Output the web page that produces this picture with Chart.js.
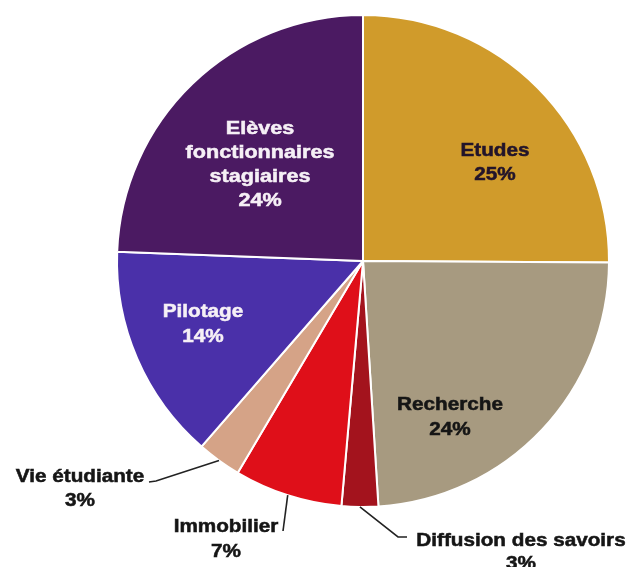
<!DOCTYPE html>
<html><head><meta charset="utf-8">
<script src="https://cdn.jsdelivr.net/npm/chart.js@4"></script>
<style>html,body{margin:0;padding:0;background:#fff;} #wrap{width:631px;height:567px;position:relative;}</style>
</head><body><div id="wrap"><canvas id="c" width="631" height="567"></canvas></div>
<script>
// ---- data ----
const categories = ['Etudes', 'Recherche', 'Diffusion des savoirs', 'Immobilier', 'Vie étudiante', 'Pilotage', ['Elèves', 'fonctionnaires', 'stagiaires']];
const shares = [25.1, 23.9, 2.4, 7.1, 2.9, 14.2, 24.4];
const percentLabels = ['25%', '24%', '3%', '7%', '3%', '14%', '24%'];

// ---- styles ----
const sliceColors = ['#D09B2B', '#A79A80', '#A3131D', '#DF0F19', '#D5A387', '#4A30A9', '#4B1A62'];
// label placement relative to pie centre (px); leader = extra points after the arc edge
const labelStyle = [
  { dx: 132, dy: -98, color: '#22142a', lh: 23.5, sx: 1.15 },
  { dx: 87, dy: 157, color: '#151515', lh: 25, sx: 1.15 },
  { ax: 521, ay: 541, color: '#151515', lh: 23, sx: 1.15, leader: [[398, 537], [407, 537]] },
  { ax: 226, ay: 527, color: '#151515', lh: 25, sx: 1.15, leader: [[283, 531]] },
  { ax: 80, ay: 477, color: '#151515', lh: 24.5, sx: 1.15, leader: [[156, 481], [149, 482]] },
  { dx: -160, dy: 64, color: '#f6f0f6', lh: 25, sx: 1.15 },
  { dx: -103, dy: -96, color: '#f6f0f6', lh: 24, sx: 1.2 }
];

function drawText(ctx, txt, x, y, sx) {
  ctx.save();
  ctx.translate(x, y);
  ctx.scale(sx, 1);
  ctx.strokeText(txt, 0, 0);
  ctx.fillText(txt, 0, 0);
  ctx.restore();
}

const labelPlugin = {
  id: 'sliceLabels',
  afterDatasetsDraw(chart) {
    const ctx = chart.ctx;
    const meta = chart.getDatasetMeta(0);
    ctx.save();
    ctx.font = 'bold 18px "Liberation Sans", Arial, sans-serif';
    ctx.textAlign = 'center';
    ctx.textBaseline = 'middle';
    meta.data.forEach((arc, i) => {
      const st = labelStyle[i];
      const p = arc.getProps(['x', 'y', 'startAngle', 'endAngle', 'outerRadius'], true);
      const cat = categories[i];
      const lines = (Array.isArray(cat) ? cat.slice() : [cat]).concat([percentLabels[i]]);
      let cx, cy;
      if (st.leader) {
        const mid = (p.startAngle + p.endAngle) / 2;
        const ex = p.x + Math.cos(mid) * p.outerRadius;
        const ey = p.y + Math.sin(mid) * p.outerRadius;
        ctx.beginPath();
        ctx.strokeStyle = '#222';
        ctx.lineWidth = 1.6;
        ctx.moveTo(ex, ey);
        st.leader.forEach(pt => ctx.lineTo(pt[0], pt[1]));
        ctx.stroke();
        cx = st.ax;
        cy = st.ay + (lines.length - 1) * st.lh / 2;
      } else {
        cx = p.x + st.dx;
        cy = p.y + st.dy;
      }
      ctx.fillStyle = st.color;
      ctx.strokeStyle = st.color;
      ctx.lineWidth = 0.5;
      const top = cy - (lines.length - 1) * st.lh / 2;
      lines.forEach((ln, k) => drawText(ctx, ln, cx, top + k * st.lh, st.sx));
    });
    ctx.restore();
  }
};

new Chart(document.getElementById('c'), {
  type: 'pie',
  data: {
    labels: categories,
    datasets: [{
      data: shares,
      backgroundColor: sliceColors,
      borderColor: '#ffffff',
      borderWidth: 2,
      radius: 246
    }]
  },
  options: {
    responsive: false,
    animation: false,
    layout: { padding: { left: 95, right: 0, top: 0, bottom: 45 } },
    plugins: { legend: { display: false }, tooltip: { enabled: false } }
  },
  plugins: [labelPlugin]
});
</script>
</body></html>
